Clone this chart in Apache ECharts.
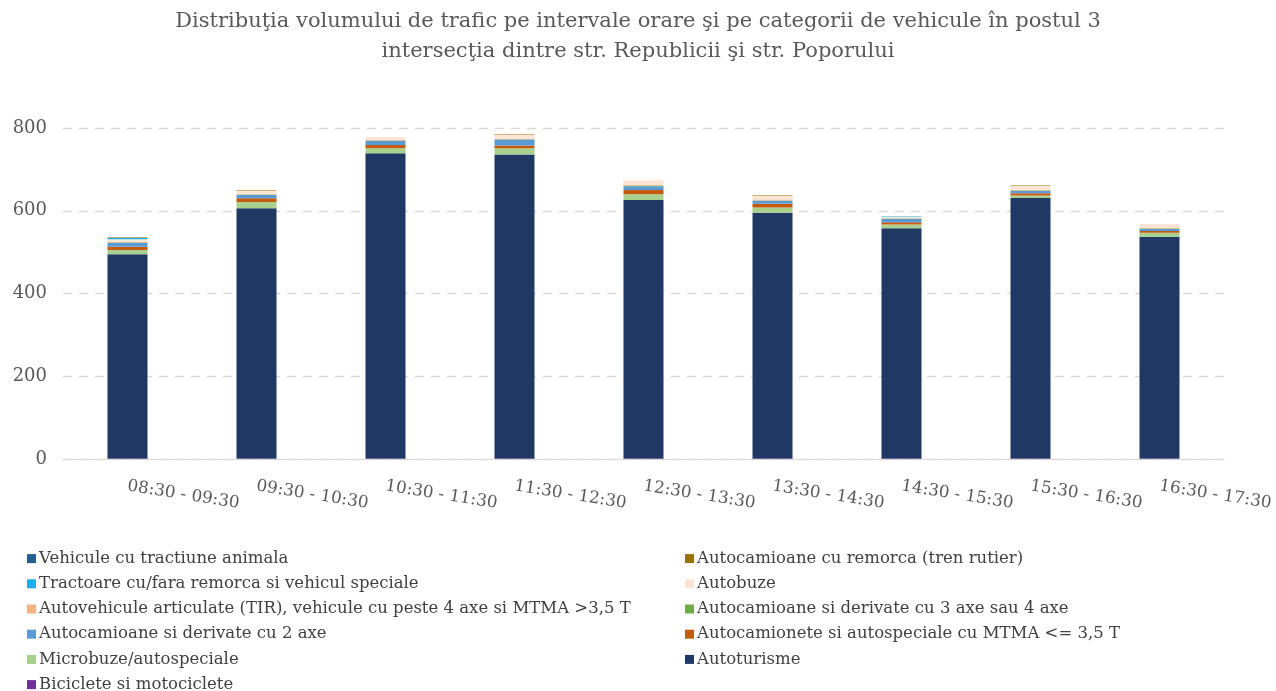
<!DOCTYPE html>
<html>
<head>
<meta charset="utf-8">
<title>Distribuţia volumului de trafic - postul 3</title>
<script src="https://cdn.jsdelivr.net/npm/echarts@6/dist/echarts.min.js"></script>
<style>
  html, body { margin: 0; padding: 0; background: #ffffff; }
  #chart { width: 1276px; height: 691px; }
</style>
</head>
<body>
<div id="chart"></div>
<script>
// Hourly intervals
const categories = ['08:30 - 09:30', '09:30 - 10:30', '10:30 - 11:30', '11:30 - 12:30', '12:30 - 13:30',
  '13:30 - 14:30', '14:30 - 15:30', '15:30 - 16:30', '16:30 - 17:30'];

// Vehicle counts per category (stacked bottom to top)
const biciclete      = [1, 1, 1, 1, 1, 1, 1, 1, 1];
const autoturisme    = [494, 605, 738, 735, 625, 594, 557, 630, 536];
const microbuze      = [10, 15, 12, 15, 14, 13, 9, 6, 10];
const autocamionete  = [8, 9, 8, 7, 10, 9, 5, 5, 4];
const axe2           = [9, 8, 10, 14, 9, 7, 8, 6, 5];
const axe34          = [1, 1, 1, 1, 2, 1, 1, 1, 1];
const tir            = [2, 1, 1, 1, 2, 2, 1, 2, 2];
const autobuze       = [6, 9, 7, 9, 11, 10, 3, 9, 9];
const tractoare      = [4, 0, 0, 0, 0, 0, 1, 0, 0];
const remorca        = [1, 1, 0, 1, 0, 1, 0, 1, 0];
const tractiune      = [0, 0, 0, 0, 0, 0, 0, 0, 0];

const yTicks = { min: 0, max: 800, interval: 200 };

const seriesDefs = [
  { name: 'Biciclete si motociclete', data: biciclete, color: '#7030A0' },
  { name: 'Autoturisme', data: autoturisme, color: '#203864' },
  { name: 'Microbuze/autospeciale', data: microbuze, color: '#A9D18E' },
  { name: 'Autocamionete si autospeciale cu MTMA <= 3,5 T', data: autocamionete, color: '#C55A11' },
  { name: 'Autocamioane si derivate cu 2 axe', data: axe2, color: '#5B9BD5' },
  { name: 'Autocamioane si derivate cu 3 axe sau 4 axe', data: axe34, color: '#70AD47' },
  { name: 'Autovehicule articulate (TIR), vehicule cu peste 4 axe si MTMA >3,5 T', data: tir, color: '#F4B183' },
  { name: 'Autobuze', data: autobuze, color: '#FBE5D6' },
  { name: 'Tractoare cu/fara remorca si vehicul speciale', data: tractoare, color: '#1AAFE6' },
  { name: 'Autocamioane cu remorca (tren rutier)', data: remorca, color: '#997300' },
  { name: 'Vehicule cu tractiune animala', data: tractiune, color: '#255E91' }
];

const FONT = 'DejaVu Serif';

const leftLegend = [
  'Vehicule cu tractiune animala',
  'Tractoare cu/fara remorca si vehicul speciale',
  'Autovehicule articulate (TIR), vehicule cu peste 4 axe si MTMA >3,5 T',
  'Autocamioane si derivate cu 2 axe',
  'Microbuze/autospeciale',
  'Biciclete si motociclete'
];
const rightLegend = [
  'Autocamioane cu remorca (tren rutier)',
  'Autobuze',
  'Autocamioane si derivate cu 3 axe sau 4 axe',
  'Autocamionete si autospeciale cu MTMA <= 3,5 T',
  'Autoturisme'
];

const legendCommon = {
  orient: 'vertical',
  top: 550,
  height: 170,
  padding: 0,
  icon: 'rect',
  itemWidth: 9,
  itemHeight: 9,
  itemGap: 8,
  selectedMode: false,
  textStyle: { fontFamily: FONT, fontSize: 16.5, color: '#404040', lineHeight: 17.2, padding: [0, 0, 0, -2] }
};

const chart = echarts.init(document.getElementById('chart'), null, { renderer: 'canvas' });
chart.setOption({
  backgroundColor: '#ffffff',
  animation: false,
  title: {
    text: 'Distribuţia volumului de trafic pe intervale orare şi pe categorii de vehicule în postul 3\nintersecţia dintre str. Republicii şi str. Poporului',
    left: 'center',
    top: 2,
    textStyle: { fontFamily: FONT, fontSize: 21, fontWeight: 'normal', color: '#595959', lineHeight: 30 }
  },
  legend: [
    Object.assign({ left: 27, data: leftLegend }, legendCommon),
    Object.assign({ left: 685, data: rightLegend }, legendCommon)
  ],
  grid: { left: 63, right: 52, top: 128, bottom: 232, containLabel: false },
  xAxis: {
    type: 'category',
    data: categories,
    axisLine: { lineStyle: { color: '#D9D9D9', width: 1 } },
    axisTick: { show: false },
    axisLabel: {
      rotate: -9,
      margin: 27,
      fontFamily: FONT,
      fontSize: 16.8,
      color: '#595959',
      interval: 0
    }
  },
  yAxis: {
    type: 'value',
    min: yTicks.min,
    max: yTicks.max,
    interval: yTicks.interval,
    axisLine: { show: false },
    axisTick: { show: false },
    axisLabel: { fontFamily: FONT, fontSize: 18, color: '#595959', margin: 16 },
    splitLine: { lineStyle: { color: '#D9D9D9', type: [9, 7], width: 1.3 } }
  },
  series: seriesDefs.map(s => ({
    name: s.name,
    type: 'bar',
    stack: 'total',
    barWidth: 40,
    data: s.data,
    itemStyle: { color: s.color },
    emphasis: { disabled: true }
  }))
});
</script>
</body>
</html>
